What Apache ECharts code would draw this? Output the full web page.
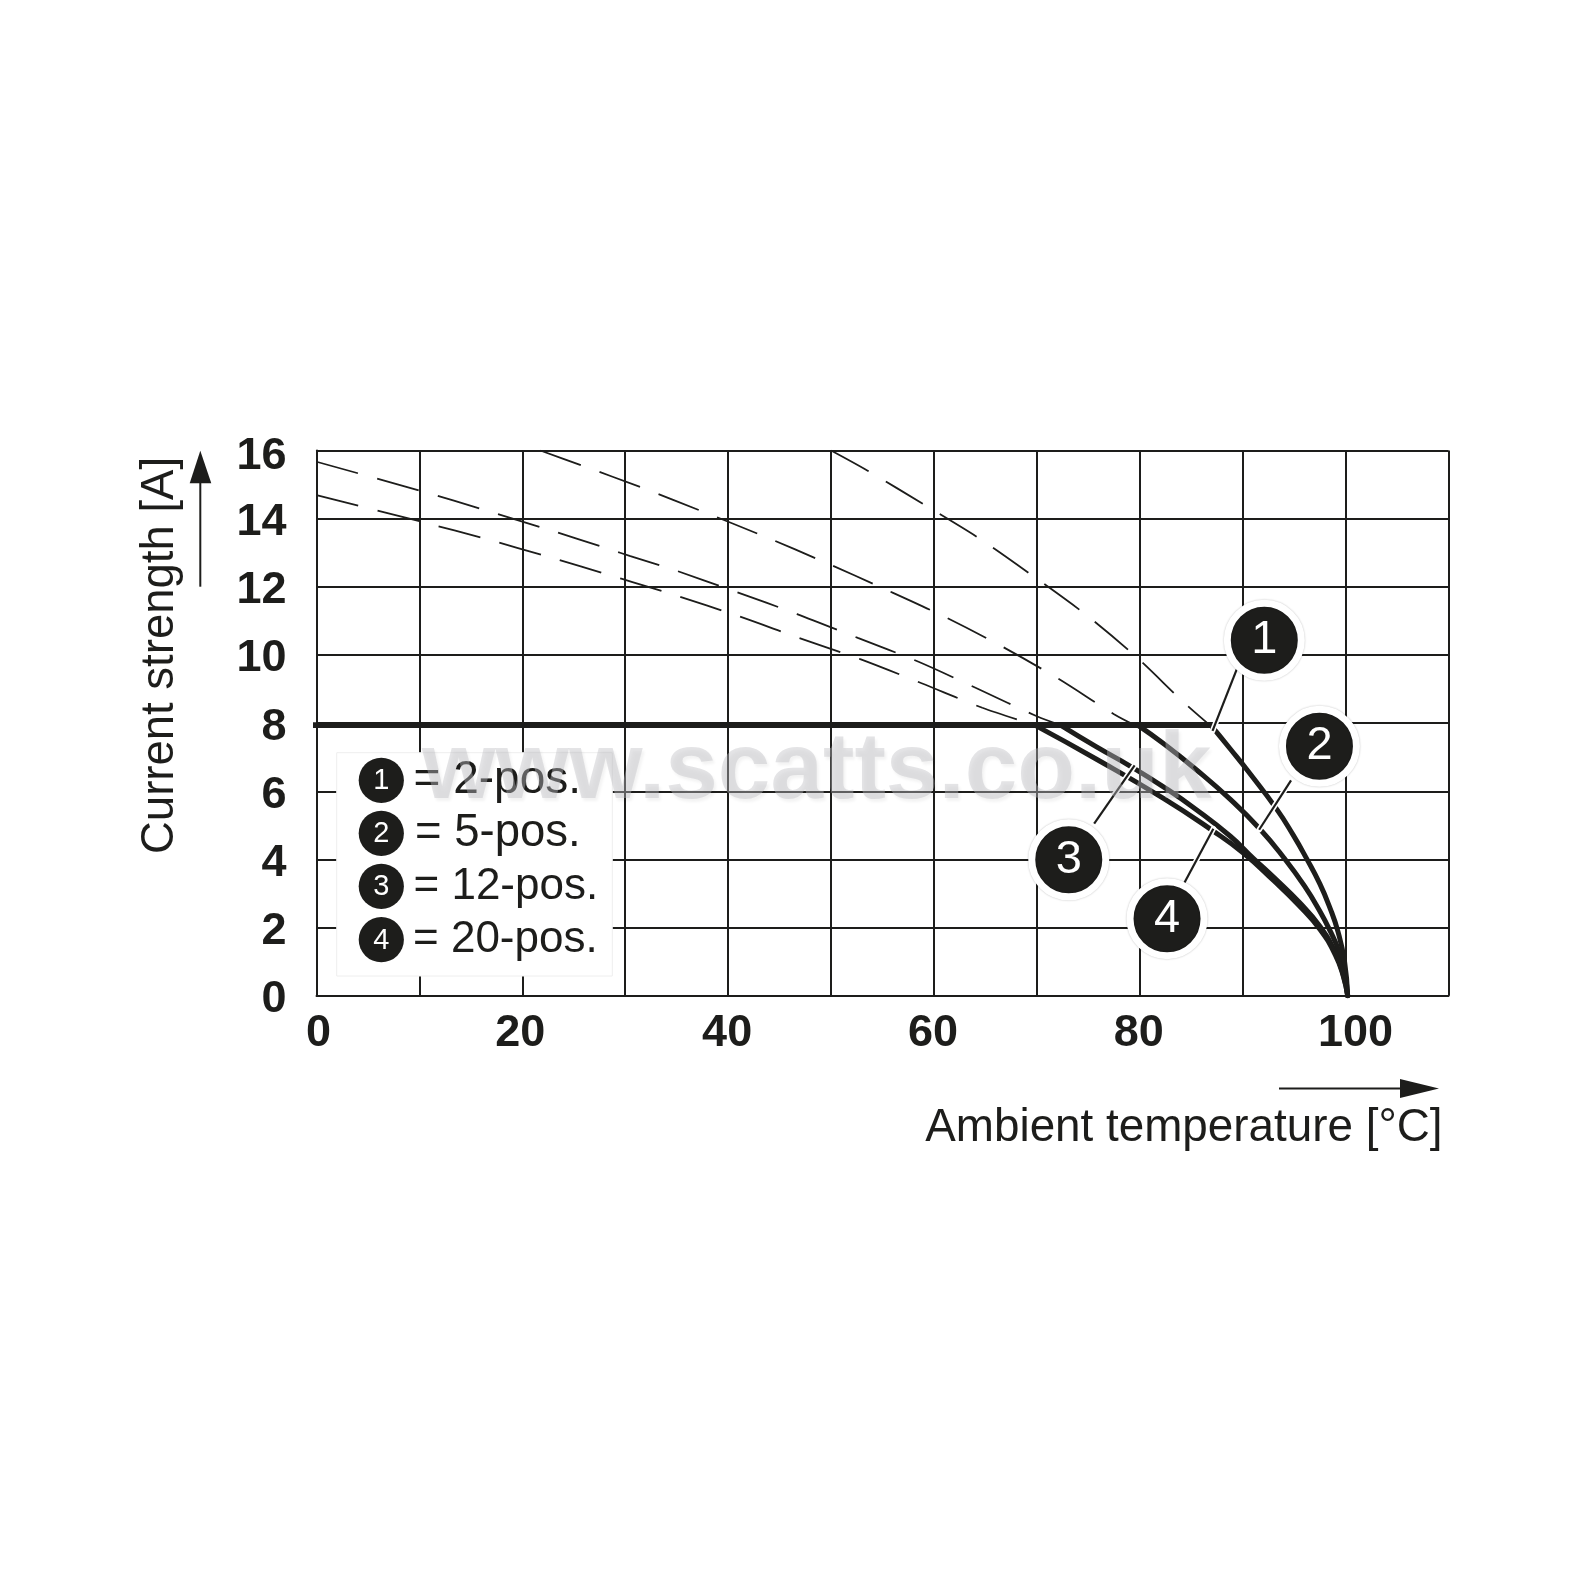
<!DOCTYPE html>
<html>
<head>
<meta charset="utf-8">
<title>Current derating over ambient temperature</title>
<script src="https://cdn.jsdelivr.net/npm/echarts@6/dist/echarts.min.js"></script>
<style>
  html, body { margin: 0; padding: 0; background: #fff; }
  #chart { width: 1584px; height: 1584px; }
</style>
</head>
<body>
<div id="chart"></div>
<script>
// Axis ticks
const xTickLabels = [0, 20, 40, 60, 80, 100];
const yTickLabels = [0, 2, 4, 6, 8, 10, 12, 14, 16];

// Rated current limit shared by all variants: [temperature, current]
const ratedLimit = [[-0.3, 7.94], [86.8, 7.94]];

// Derating curves below the limit
const curve1 = [[86.9, 7.94], [88.8, 7.24], [90.7, 6.52], [93.27, 5.49], [94.9, 4.72], [96.2, 4.03], [97.5, 3.28], [98.45, 2.6], [99.26, 1.88], [99.9, 1.0], [100.2, 0]];
const curve2 = [[79.8, 7.94], [82.3, 7.4], [85.5, 6.63], [88.8, 5.76], [91.65, 4.9], [94, 4.05], [96, 3.22], [97.5, 2.48], [98.5, 1.9], [99.3, 1.35], [99.9, 0.7], [100.2, 0]];
const curve3 = [[72.3, 7.94], [75.8, 7.3], [79.06, 6.74], [82.3, 6.13], [85.5, 5.46], [88.8, 4.68], [91, 4.04], [93, 3.48], [95.5, 2.74], [97.5, 2.04], [99, 1.27], [99.8, 0.58], [100.2, 0]];
const curve4 = [[69.8, 7.94], [75.8, 6.94], [82.3, 5.79], [87, 4.86], [90, 4.2], [93, 3.38], [95.5, 2.64], [97.5, 1.95], [99, 1.2], [99.8, 0.55], [100.2, 0]];

// Theoretical curves above the limit, dashed
const dashed1 = [[50, 16], [53.6, 15.4], [59.1, 14.4], [64.5, 13.4], [69.8, 12.28], [74.9, 11.15], [79.7, 9.93], [84.3, 8.6], [86.8, 7.94]];
const dashed2 = [[21.75, 16], [25.7, 15.57], [31.7, 14.9], [37.6, 14.2], [43.5, 13.48], [49.4, 12.72], [55.1, 11.95], [60.9, 11.14], [66.6, 10.25], [72.1, 9.3], [77.5, 8.26], [79.5, 7.94]];
const dashed3 = [[0, 15.67], [10.3, 14.8], [16.4, 14.25], [22.5, 13.68], [28.5, 13.1], [30.5, 12.9], [34.7, 12.5], [40.7, 11.86], [46.7, 11.2], [52.6, 10.5], [58.5, 9.8], [64.3, 9.0], [70, 8.2], [72.3, 7.94]];
const dashed4 = [[0, 14.69], [10.3, 13.9], [16.5, 13.4], [22.65, 12.87], [28.7, 12.32], [30.7, 12.14], [34.9, 11.75], [40.9, 11.15], [46.9, 10.5], [52.9, 9.87], [58.8, 9.17], [64.7, 8.45], [69.8, 7.94]];

// Numbered callouts and their leader lines
const calloutLabels = ['1', '2', '3', '4'];
const calloutPoints = [[92.1, 10.43], [97.46, 7.32], [73.1, 3.99], [82.65, 2.26]];
const leaders = [
  [[89.45, 9.6], [87.07, 7.77]],
  [[94.7, 6.32], [91.6, 4.87]],
  [[75.57, 5.05], [79.5, 6.76]],
  [[84.26, 3.27], [87.15, 4.9]]
];

// Key entries
const keyTexts = ['= 2-pos.', '= 5-pos.', '= 12-pos.', '= 20-pos.'];

const INK = '#1d1d1b';
const FONT = '"Liberation Sans", Arial, sans-serif';

const dashedSeries = [dashed1, dashed2, dashed3, dashed4].map(d => ({
  type: 'line', data: d, symbol: 'none', smooth: 0.3, z: 3, silent: true,
  lineStyle: { color: INK, width: 1.8, type: [43, 20] }
}));

const curveSeries = [curve1, curve2, curve3, curve4].map(d => ({
  type: 'line', data: d, symbol: 'none', smooth: 0.5, z: 5, silent: true,
  lineStyle: { color: INK, width: 5, cap: 'round', join: 'round' }
}));

const leaderSeries = leaders.flatMap(d => [
  { type: 'line', data: d, symbol: 'none', z: 6, silent: true, lineStyle: { color: '#fff', width: 5.5, cap: 'round' } },
  { type: 'line', data: d, symbol: 'none', z: 7, silent: true, lineStyle: { color: INK, width: 2.2 } }
]);

const limitSeries = {
  type: 'line', data: ratedLimit, symbol: 'none', z: 4, silent: true,
  lineStyle: { color: INK, width: 5.8, cap: 'round' }
};

const calloutSeries = {
  type: 'scatter', silent: true, z: 8, symbol: 'circle', symbolSize: 74,
  data: calloutPoints.map((p, i) => ({ value: p, name: calloutLabels[i] })),
  itemStyle: { color: INK, borderColor: '#fff', borderWidth: 7, opacity: 1, shadowBlur: 2, shadowColor: 'rgba(0,0,0,0.25)' },
  label: {
    show: true, position: 'inside', formatter: '{b}',
    color: '#fff', fontFamily: FONT, fontSize: 47
  }
};

// Key panel, drawn over the grid
const keyRowY = [780.3, 833.3, 886.3, 939.7];
const keyFontSize = [46, 45.5, 44, 44];
const keyTextX = [413.5, 415, 413.5, 413];
const keyGraphics = [
  { type: 'rect', z: 1, shape: { x: 336.7, y: 752.7, width: 275.6, height: 223.3 },
    style: { fill: '#fff', stroke: '#eeeeee', lineWidth: 1 } }
];
keyTexts.forEach((t, i) => {
  keyGraphics.push(
    { type: 'circle', z: 9, shape: { cx: 381.3, cy: keyRowY[i], r: 22.6 }, style: { fill: INK } },
    { type: 'text', z: 10, x: 381.3, y: keyRowY[i] + 1, style: {
        text: calloutLabels[i], fill: '#fff', fontFamily: FONT, fontSize: 29, align: 'center', verticalAlign: 'middle' } },
    { type: 'text', z: 10, x: keyTextX[i], y: keyRowY[i] + (i === 0 ? 0 : 0.5), style: {
        text: t, fill: INK, fontFamily: FONT, fontSize: keyFontSize[i], align: 'left', verticalAlign: 'middle' } }
  );
});

// Axis titles and direction arrows
const axisGraphics = [
  { type: 'text', z: 10, x: 160, y: 854, rotation: Math.PI / 2, style: {
      text: 'Current strength [A]', fill: INK, fontFamily: FONT, fontSize: 45.5, align: 'left', verticalAlign: 'middle' } },
  { type: 'line', z: 10, shape: { x1: 200.3, y1: 586.7, x2: 200.3, y2: 480 }, style: { stroke: INK, lineWidth: 2 } },
  { type: 'polygon', z: 10, shape: { points: [[200.3, 450.7], [211.3, 483.3], [189.7, 483.3]] }, style: { fill: INK } },
  { type: 'line', z: 10, shape: { x1: 1279, y1: 1088.5, x2: 1402, y2: 1088.5 }, style: { stroke: INK, lineWidth: 2 } },
  { type: 'polygon', z: 10, shape: { points: [[1439, 1088.5], [1400, 1079], [1400, 1098]] }, style: { fill: INK } },
  { type: 'text', z: 10, x: 1442.5, y: 1128, style: {
      text: 'Ambient temperature [°C]', fill: INK, fontFamily: FONT, fontSize: 45.8, align: 'right', verticalAlign: 'middle' } }
];

// Site mark laid across the plot
const markGraphic = {
  type: 'text', z: 20, x: 422, y: 772, silent: true,
  style: {
    text: 'www.scatts.co.uk', fontFamily: FONT, fontWeight: 'bold', fontSize: 94.5, align: 'left', verticalAlign: 'middle',
    fill: 'rgba(190,190,195,0.42)',
    textShadowColor: 'rgba(0,0,0,0.12)', textShadowBlur: 3, textShadowOffsetX: 2, textShadowOffsetY: 3
  }
};

// Small per-label nudges for the horizontal tick labels
const tickStyle = { color: INK, fontFamily: FONT, fontWeight: 'bold', fontSize: 45 };

const chart = echarts.init(document.getElementById('chart'), null, { renderer: 'canvas' });
chart.setOption({
  animation: false,
  backgroundColor: '#fff',
  grid: { left: 316.5, right: 135.5, top: 450.5, bottom: 588.3, containLabel: false },
  xAxis: {
    type: 'value', min: 0, max: 110, interval: 10,
    axisLine: { show: true, onZero: false, lineStyle: { color: INK, width: 2 } },
    axisTick: { show: false },
    splitLine: { show: true, lineStyle: { color: INK, width: 2 } },
    axisLabel: {
      customValues: xTickLabels, margin: 15, hideOverlap: false, ...tickStyle,
      formatter: v => v === 0 ? '{a|0}' : v === 20 ? '{b|20}' : v === 100 ? '{d|100}' : `{c|${v}}`,
      rich: {
        a: { ...tickStyle, padding: [0, 0, 0, 4] },
        b: { ...tickStyle, padding: [0, 4, 0, 0] },
        c: { ...tickStyle, padding: [0, 2, 0, 0] },
        d: { ...tickStyle, padding: [0, 0, 0, 20] }
      }
    }
  },
  yAxis: {
    type: 'value', min: 0, max: 16, interval: 2,
    axisLine: { show: true, onZero: false, lineStyle: { color: INK, width: 2 } },
    axisTick: { show: false },
    splitLine: { show: true, lineStyle: { color: INK, width: 2 } },
    axisLabel: {
      customValues: yTickLabels, margin: 30, hideOverlap: false, ...tickStyle,
      formatter: v => v === 16 ? `{t|${v}}` : `{v|${v}}`,
      rich: {
        v: { ...tickStyle, padding: [8, 0, 0, 0] },
        t: { ...tickStyle, padding: [12, 0, 0, 0] }
      }
    }
  },
  series: [...dashedSeries, limitSeries, ...curveSeries, ...leaderSeries, calloutSeries],
  graphic: { elements: [...keyGraphics, ...axisGraphics, markGraphic] }
});
</script>
</body>
</html>
